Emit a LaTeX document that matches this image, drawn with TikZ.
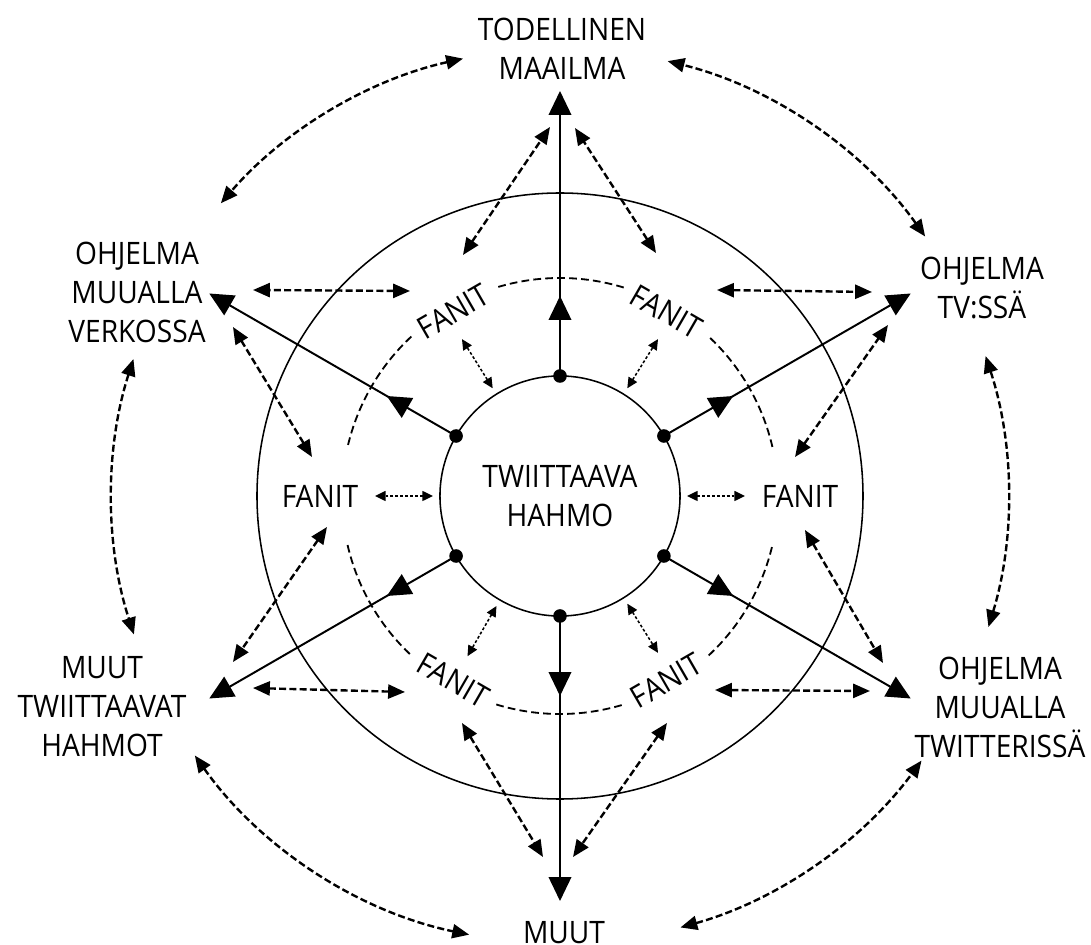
\documentclass[tikz,border=0pt]{standalone}
\usepackage{fontspec}
\setmainfont{Open Sans}[FakeStretch=0.91]
\usepackage{tikz}
\usetikzlibrary{arrows.meta}
\usetikzlibrary{positioning}
\usetikzlibrary{calc}

\begin{document}
\begin{tikzpicture}[x=0.025cm, y=0.025cm,
every node/.style={font=\fontsize{22}{27.7}\selectfont, align=center, inner sep=0pt},
dot/.style={circle, fill=black, inner sep=0pt, minimum size=0.34cm},
main/.style={line width=1.4pt, -{Triangle[length=17pt,width=16pt]}},
link/.style={line width=1.7pt, dash pattern=on 5pt off 2.3pt,
  {Triangle[length=12pt,width=10pt]}-{Triangle[length=12pt,width=10pt]}},
near/.style={line width=1.1pt, dash pattern=on 2pt off 1.5pt,
  {Triangle[length=7.5pt,width=7pt]}-{Triangle[length=7.5pt,width=7pt]}},
ring/.style={line width=1.3pt, dash pattern=on 5.5pt off 3pt}]

\useasboundingbox (-560,-449) rectangle (531,496);

% circles
\node (hahmo) at (0,0) [draw, circle, line width=1.1pt, minimum size=6cm] {TWIITTAAVA\\HAHMO};
\draw[line width=1.1pt] (0,0) circle[radius=303];

% dashed ring between the fans
\foreach \a in {30,90,...,330}
  \draw[ring] ({\a-17}:218) arc[start angle=\a-17, end angle=\a+17, radius=218];

% outer labels
\node (todellinen) at (2,447) {TODELLINEN\\MAAILMA};
\node (tvssa) at (422,208) {OHJELMA\\TV:SSÄ};
\node (verkossa) at (-423,204) {OHJELMA\\MUUALLA\\VERKOSSA};
\node (hahmot) at (-458,-211) {MUUT\\TWIITTAAVAT\\HAHMOT};
\node (twitterissa) at (440,-211) {OHJELMA\\MUUALLA\\TWITTERISSÄ};
\node (muut) at (4,-437) {MUUT};

% fans
\foreach \a/\r/\rot in {0/240/0, 60/213/-30, 120/213/30, 180/240/0, 240/213/-30, 300/213/30}
  \node (f\a) at (\a:\r) [rotate=\rot] {FANIT};

% solid arrows out of the character
\foreach \a in {30,90,...,330} {
  \coordinate (m\a) at (\a:200);
  \coordinate (e\a) at (\a:405);
  \draw[main] (\a:120) -- (m\a);
  \draw[main] (\a:190) -- (e\a);
  \node (d\a) at (\a:120) [dot] {};
}

% fans <-> character
\foreach \a in {0,58,122,180,240,302}
  \draw[near] (\a:127) -- (\a:185);

% fans <-> outer labels
\foreach \n/\px/\py/\qx/\qy in {a/-97/241/-10/369, b/96/243/15/368,
    c/-150/205/-307/206, d/157/206/312/204,
    e/-248/39/-327/169, f/235/39/328/171,
    g/-233/-31/-327/-166, h/245/-34/323/-167,
    i/-155/-196/-307/-192, j/155/-194/310/-195,
    k/-98/-227/-17/-361, l/107/-227/13/-361} {
  \coordinate (\n1) at (\px,\py);
  \coordinate (\n2) at (\qx,\qy);
  \draw[link] (\n1) -- (\n2);
}

% outer labels <-> each other
\foreach \s/\e in {35.4/76.1, 102.5/139.2, 162.2/198, 215.4/258.3, 285.6/323.8, 343/378.2}
  \draw[link] (\s:448) arc[start angle=\s, end angle=\e, radius=448];

\end{tikzpicture}
\end{document}
